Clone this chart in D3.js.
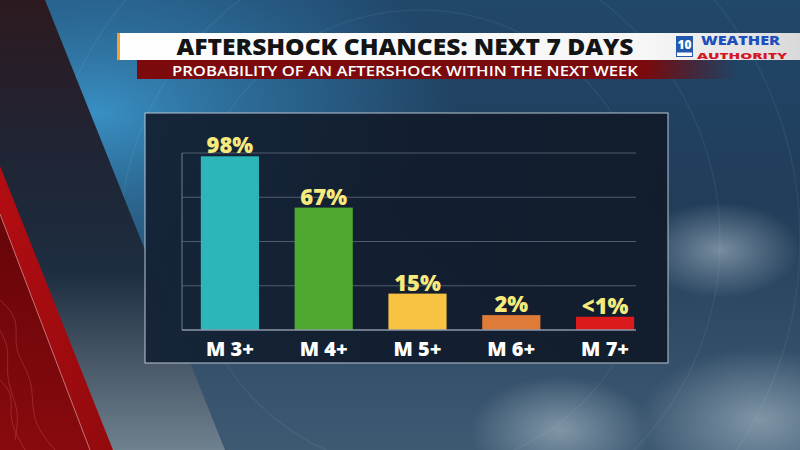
<!DOCTYPE html>
<html>
<head>
<meta charset="utf-8">
<script src="https://cdn.jsdelivr.net/npm/d3@7"></script>
<style>
  html, body { margin: 0; padding: 0; background: #1d3550; }
  svg { display: block; }
</style>
</head>
<body>
<svg id="chart"></svg>
<script>
// chart data
const categories = ["M 3+", "M 4+", "M 5+", "M 6+", "M 7+"]
const values = [98, 67, 15, 2, 1]
const valueLabels = ["98%", "67%", "15%", "2%", "<1%"]
const barColors = ["#2db6b9", "#4fa931", "#f8c343", "#df7b38", "#db1a1c"]
const gridTicks = [0, 25, 50, 75, 100]

const title = "AFTERSHOCK CHANCES: NEXT 7 DAYS"
const subtitle = "PROBABILITY OF AN AFTERSHOCK WITHIN THE NEXT WEEK"

const width = 800, height = 450

const svg = d3.select('#chart')
    .attr('width', width)
    .attr('height', height)

const defs = svg.append('defs')

const linGrad = (id, x1, y1, x2, y2, stops) => {
    let g = defs.append('linearGradient')
        .attr('id', id)
        .attr('x1', x1).attr('y1', y1).attr('x2', x2).attr('y2', y2)
    stops.forEach(s => g.append('stop').attr('offset', s[0]).attr('stop-color', s[1]).attr('stop-opacity', s[2] == null ? 1 : s[2]))
}
const radGrad = (id, cx, cy, r, stops) => {
    let g = defs.append('radialGradient')
        .attr('id', id)
        .attr('cx', cx).attr('cy', cy).attr('r', r)
    stops.forEach(s => g.append('stop').attr('offset', s[0]).attr('stop-color', s[1]).attr('stop-opacity', s[2] == null ? 1 : s[2]))
}

linGrad('bgBase', '0', '0', '0', '1', [[0, '#21476b'], [0.45, '#213d59'], [1, '#3e5a73']])
radGrad('bgGlow', '0.12', '0.25', '0.45', [[0, '#3a93c8', 0.95], [0.6, '#2f7aab', 0.5], [1, '#2f7aab', 0]])
radGrad('cloud1', '0.5', '0.5', '0.5', [[0, '#c6d4de', 0.5], [1, '#c6d4de', 0]])
linGrad('darkBand', '0', '0', '0', '1', [[0, '#2d1a20'], [0.35, '#1f2535'], [0.6, '#1d2d40'], [1, '#6f808e']])
linGrad('redBand', '0', '0', '1', '1', [[0, '#b30d12'], [1, '#920a0d']])
linGrad('redInner', '0', '0', '0', '1', [[0, '#650508'], [1, '#880a0e']])
linGrad('whiteBar', '0', '0', '1', '0', [[0, '#ffffff'], [0.78, '#f6f6f6'], [1, '#d9d9d9']])
linGrad('redBar', '0', '0', '1', '0', [[0, '#7d0a0d'], [0.85, '#7a0a0d'], [1, '#5a0a10', 0]])
linGrad('panel', '0', '0', '1', '0', [[0, '#142336'], [0.5, '#121d2e'], [1, '#111b2b']])

// background
svg.append('rect').attr('width', width).attr('height', height).attr('fill', 'url(#bgBase)')
svg.append('rect').attr('width', width).attr('height', height).attr('fill', 'url(#bgGlow)')

// soft clouds on the right
const clouds = [[760, 420, 120], [720, 250, 80], [560, 430, 90]]
svg.selectAll('ellipse.cloud')
    .data(clouds)
    .join('ellipse')
    .attr('class', 'cloud')
    .attr('cx', d => d[0]).attr('cy', d => d[1])
    .attr('rx', d => d[2]).attr('ry', d => d[2] * 0.6)
    .attr('fill', 'url(#cloud1)')

// faint arcs
const arcs = [230, 300, 380]
svg.selectAll('circle.arc')
    .data(arcs)
    .join('circle')
    .attr('class', 'arc')
    .attr('cx', 420).attr('cy', 240)
    .attr('r', d => d)
    .attr('fill', 'none')
    .attr('stroke', '#bfe0ee')
    .attr('stroke-opacity', 0.07)
    .attr('stroke-width', 1.5)

// left diagonal bands
svg.append('path')
    .attr('d', 'M0,0 L45,0 L225,450 L112,450 L0,168 Z')
    .attr('fill', 'url(#darkBand)')
svg.append('path')
    .attr('d', 'M0,166 L113,450 L0,450 Z')
    .attr('fill', 'url(#redBand)')
svg.append('path')
    .attr('d', 'M0,214 L90,450 L0,450 Z')
    .attr('fill', 'url(#redInner)')
svg.append('line')
    .attr('x1', 0).attr('y1', 214).attr('x2', 90).attr('y2', 450)
    .attr('stroke', '#d9a0a0').attr('stroke-opacity', 0.7).attr('stroke-width', 1)

// contour squiggles inside red stripe
const contour = d3.line().curve(d3.curveBasis)
const contours = [
    [[0, 300], [20, 320], [12, 350], [35, 380], [30, 420], [55, 450]],
    [[0, 330], [10, 350], [5, 380], [20, 410], [15, 440]],
    [[0, 380], [14, 395], [8, 420], [25, 450]]
]
svg.selectAll('path.contour')
    .data(contours)
    .join('path')
    .attr('class', 'contour')
    .attr('d', d => contour(d))
    .attr('fill', 'none')
    .attr('stroke', '#e07a70')
    .attr('stroke-opacity', 0.35)
    .attr('stroke-width', 0.8)

// header bars
svg.append('rect').attr('x', 117).attr('y', 33).attr('width', 683).attr('height', 27).attr('fill', 'url(#whiteBar)')
svg.append('rect').attr('x', 117).attr('y', 33).attr('width', 3).attr('height', 27).attr('fill', '#f2a233')
svg.append('rect').attr('x', 137).attr('y', 60).attr('width', 600).attr('height', 19).attr('fill', 'url(#redBar)')

svg.append('text')
    .attr('x', 405).attr('y', 54.5)
    .attr('text-anchor', 'middle')
    .attr('font-family', 'Open Sans, sans-serif')
    .attr('font-weight', 800)
    .attr('font-size', 23)
    .attr('fill', '#141414')
    .attr('textLength', 457)
    .attr('lengthAdjust', 'spacingAndGlyphs')
    .text(title)

svg.append('text')
    .attr('x', 405).attr('y', 75.5)
    .attr('text-anchor', 'middle')
    .attr('font-family', 'Open Sans, sans-serif')
    .attr('font-weight', 600)
    .attr('font-size', 14)
    .attr('fill', '#ffffff')
    .attr('textLength', 466)
    .attr('lengthAdjust', 'spacingAndGlyphs')
    .text(subtitle)

// station logo
const logo = svg.append('g')
logo.append('rect').attr('x', 676).attr('y', 36).attr('width', 17).attr('height', 21).attr('fill', '#2458ad')
logo.append('rect').attr('x', 677).attr('y', 52.5).attr('width', 15).attr('height', 3.5).attr('fill', '#ffffff')
logo.append('text').attr('x', 684.5).attr('y', 49).attr('text-anchor', 'middle')
    .attr('font-family', 'Open Sans, sans-serif').attr('font-weight', 800).attr('font-size', 12)
    .attr('fill', '#ffffff').text('10')
logo.append('text').attr('x', 701).attr('y', 45)
    .attr('font-family', 'Open Sans, sans-serif').attr('font-weight', 800).attr('font-size', 12)
    .attr('fill', '#1f4fbd').attr('textLength', 79).attr('lengthAdjust', 'spacingAndGlyphs')
    .text('WEATHER')
logo.append('text').attr('x', 697).attr('y', 58.5)
    .attr('font-family', 'Open Sans, sans-serif').attr('font-weight', 800).attr('font-size', 9.3)
    .attr('fill', '#d3161f').attr('textLength', 90).attr('lengthAdjust', 'spacingAndGlyphs')
    .text('AUTHORITY')

// chart panel
svg.append('rect')
    .attr('x', 145).attr('y', 113)
    .attr('width', 523).attr('height', 250)
    .attr('fill', 'url(#panel)')
    .attr('fill-opacity', 0.96)
    .attr('stroke', '#b9c6d2')
    .attr('stroke-width', 1)

const margin = { left: 182, right: 636, top: 153, bottom: 330 }

const x = d3.scaleBand()
    .domain(categories)
    .range([183, 652])
    .paddingInner(0.38)
    .paddingOuter(0.19)

// gridlines sit on an even 0-100 scale
const yGrid = d3.scaleLinear()
    .domain([0, 100])
    .range([margin.bottom, margin.top])

// the graphic lifts small bars off the floor so they stay visible
const yBar = d3.scaleLinear()
    .domain([-7, 100])
    .range([margin.bottom, margin.top])

svg.append('g')
    .selectAll('line')
    .data(gridTicks.slice(1))
    .join('line')
    .attr('x1', margin.left).attr('x2', margin.right)
    .attr('y1', d => yGrid(d)).attr('y2', d => yGrid(d))
    .attr('stroke', '#4f5c6e')
    .attr('stroke-width', 1)

svg.append('line')
    .attr('x1', margin.left).attr('x2', margin.left)
    .attr('y1', yGrid(100)).attr('y2', margin.bottom)
    .attr('stroke', '#6f7c8d')
    .attr('stroke-width', 1)

let bars = categories.map((c, i) => ({ cat: c, value: values[i], label: valueLabels[i], color: barColors[i] }))

svg.append('g')
    .selectAll('rect')
    .data(bars)
    .join('rect')
    .attr('x', d => x(d.cat))
    .attr('width', x.bandwidth())
    .attr('y', d => yBar(d.value))
    .attr('height', d => margin.bottom - yBar(d.value))
    .attr('fill', d => d.color)

svg.append('line')
    .attr('x1', margin.left).attr('x2', margin.right)
    .attr('y1', margin.bottom).attr('y2', margin.bottom)
    .attr('stroke', '#8d99a8')
    .attr('stroke-width', 1.5)

svg.append('g')
    .selectAll('text')
    .data(bars)
    .join('text')
    .attr('x', d => x(d.cat) + x.bandwidth() / 2)
    .attr('y', d => yBar(d.value) - 3)
    .attr('text-anchor', 'middle')
    .attr('font-family', 'Open Sans, sans-serif')
    .attr('font-weight', 800)
    .attr('font-size', 22)
    .attr('fill', '#f7ea7c')
    .text(d => d.label)

svg.append('g')
    .selectAll('text')
    .data(bars)
    .join('text')
    .attr('x', d => x(d.cat) + x.bandwidth() / 2)
    .attr('y', 355.5)
    .attr('text-anchor', 'middle')
    .attr('font-family', 'Open Sans, sans-serif')
    .attr('font-weight', 800)
    .attr('font-size', 20)
    .attr('fill', '#ffffff')
    .text(d => d.cat)
</script>
</body>
</html>
